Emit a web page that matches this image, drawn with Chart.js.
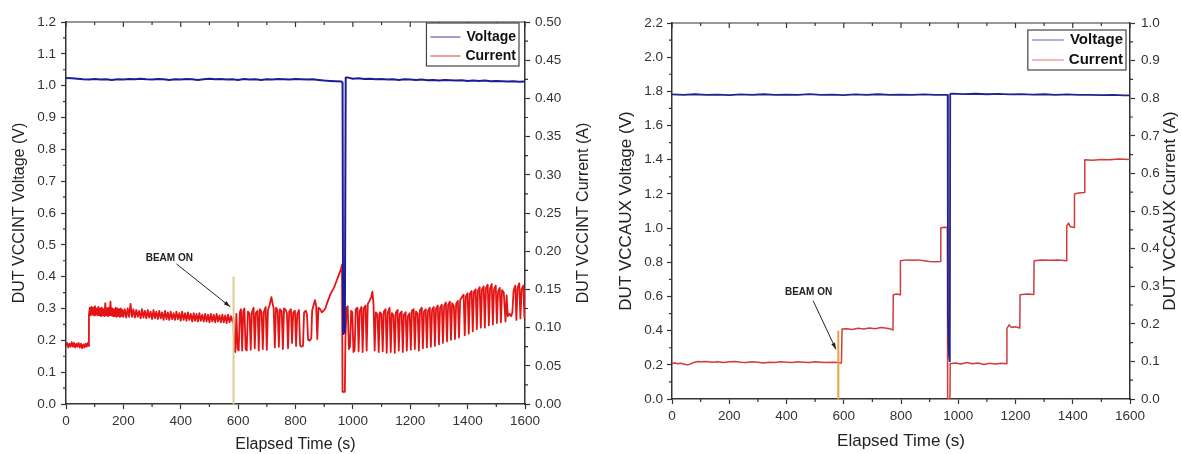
<!DOCTYPE html>
<html>
<head>
<meta charset="utf-8">
<script src="https://cdn.jsdelivr.net/npm/chart.js@4/dist/chart.umd.min.js"></script>
<style>
  body { margin: 0; background: #fff; }
  #wrap { position: relative; width: 1182px; height: 454px; background: #fff; }
  canvas { position: absolute; top: 0; }
  #vccint { left: 0; }
  #vccaux { left: 596px; }
</style>
</head>
<body>
<div id="wrap">
  <canvas id="vccint" width="596" height="454"></canvas>
  <canvas id="vccaux" width="586" height="454"></canvas>
</div>
<script>
// ---- data (time in s) ----
const timeTicks = [0, 200, 400, 600, 800, 1000, 1200, 1400, 1600];

// VCCINT voltage (V, left axis)
const vccintVoltage = [
  [0,1.024],[20,1.023],[40,1.022],[60,1.020],[80,1.019],[100,1.021],[120,1.019],[140,1.020],
  [160,1.018],[180,1.020],[200,1.019],[220,1.021],[240,1.020],[260,1.022],[280,1.020],[300,1.019],
  [320,1.021],[340,1.020],[360,1.018],[380,1.020],[400,1.019],[420,1.021],[440,1.020],[460,1.018],
  [480,1.020],[500,1.022],[520,1.020],[540,1.021],[560,1.019],[580,1.020],[600,1.018],[620,1.021],
  [640,1.019],[660,1.020],[680,1.018],[700,1.020],[720,1.019],[740,1.021],[760,1.020],[780,1.019],
  [800,1.021],[820,1.020],[840,1.019],[860,1.020],[880,1.018],[900,1.016],[920,1.015],[940,1.014],
  [960,1.013],[964,1.010],[966,0.220],[972,0.225],[975,1.025],[980,1.026],[1000,1.022],[1020,1.023],
  [1040,1.021],[1060,1.022],[1080,1.020],[1100,1.021],[1120,1.019],[1140,1.020],[1160,1.018],
  [1180,1.020],[1200,1.019],[1220,1.018],[1240,1.019],[1260,1.017],[1280,1.018],[1300,1.016],
  [1320,1.018],[1340,1.017],[1360,1.016],[1380,1.017],[1400,1.015],[1420,1.016],[1440,1.015],
  [1460,1.016],[1480,1.014],[1500,1.015],[1520,1.014],[1540,1.013],[1560,1.014],[1580,1.012],[1600,1.013]
];

// VCCINT current (A, right axis)
const vccintCurrent = [
  [0,0.076],[4,0.080],[8,0.074],[12,0.079],[16,0.075],[20,0.081],[24,0.075],[28,0.080],[32,0.074],
  [36,0.079],[40,0.075],[44,0.080],[48,0.074],[52,0.079],[56,0.073],[60,0.078],[64,0.074],[68,0.079],
  [72,0.075],[76,0.080],[79,0.076],
  [80,0.117],[83,0.126],[86,0.116],[89,0.127],[92,0.117],[95,0.126],[98,0.116],[101,0.128],[104,0.117],
  [107,0.125],[110,0.116],[113,0.127],[116,0.116],[119,0.125],[122,0.115],[125,0.126],[128,0.116],
  [131,0.124],[134,0.115],[137,0.132],[140,0.116],[143,0.125],[146,0.115],[149,0.126],[152,0.116],
  [155,0.134],[158,0.116],[161,0.125],[164,0.115],[167,0.124],[170,0.115],[173,0.126],[176,0.114],
  [179,0.125],[182,0.115],[185,0.124],[188,0.114],[191,0.125],[194,0.115],[197,0.123],[200,0.114],
  [205,0.124],[210,0.113],[215,0.125],[220,0.114],[225,0.131],[230,0.114],[235,0.124],[240,0.113],
  [245,0.123],[250,0.114],[255,0.122],[260,0.112],[265,0.124],[270,0.113],[275,0.122],[280,0.112],
  [285,0.123],[290,0.113],[295,0.121],[300,0.111],[305,0.123],[310,0.112],[315,0.121],[320,0.111],
  [325,0.122],[330,0.112],[335,0.120],[340,0.110],[345,0.122],[350,0.111],[355,0.120],[360,0.110],
  [365,0.121],[370,0.111],[375,0.119],[380,0.110],[385,0.121],[390,0.111],[395,0.119],[400,0.109],
  [405,0.121],[410,0.110],[415,0.119],[420,0.109],[425,0.120],[430,0.110],[435,0.118],[440,0.108],
  [445,0.119],[450,0.109],[455,0.118],[460,0.108],[465,0.119],[470,0.109],[475,0.117],[480,0.108],
  [485,0.118],[490,0.108],[495,0.117],[500,0.107],[505,0.118],[510,0.108],[515,0.117],[520,0.107],
  [525,0.118],[530,0.108],[535,0.116],[540,0.107],[545,0.117],[550,0.107],[555,0.116],[560,0.106],
  [565,0.117],[570,0.107],[575,0.115],[580,0.108],[584,0.113],
  [586,0.070],[590,0.068],[594,0.118],[598,0.072],[602,0.070],[606,0.120],[610,0.124],[614,0.070],
  [618,0.122],[622,0.125],[626,0.072],[630,0.070],[634,0.121],[640,0.118],[644,0.071],[648,0.120],
  [654,0.126],[658,0.073],[662,0.119],[668,0.122],[672,0.070],[676,0.124],[682,0.120],[686,0.072],
  [690,0.121],[696,0.127],[700,0.071],[704,0.123],[710,0.130],[716,0.140],[720,0.132],[724,0.125],
  [728,0.074],[732,0.126],[738,0.122],[742,0.075],[746,0.124],[752,0.121],[756,0.072],[760,0.125],
  [766,0.123],[770,0.119],[774,0.073],[778,0.121],[784,0.124],[788,0.080],[792,0.120],[798,0.122],
  [802,0.076],[806,0.118],[812,0.123],[816,0.077],[820,0.075],[826,0.076],[830,0.120],[836,0.122],
  [840,0.117],[844,0.084],[850,0.083],[855,0.086],[858,0.122],[864,0.131],[868,0.136],[872,0.128],
  [876,0.085],[880,0.126],[886,0.124],[892,0.120],[898,0.122],[904,0.125],[910,0.132],[916,0.138],
  [922,0.144],[928,0.148],[934,0.152],[940,0.158],[946,0.164],[952,0.170],[958,0.176],[962,0.182],
  [964,0.016],[972,0.016],[974,0.085],
  [978,0.126],[982,0.128],[986,0.072],[990,0.075],[994,0.122],[998,0.120],[1002,0.068],[1006,0.070],
  [1010,0.124],[1016,0.126],[1020,0.069],[1024,0.122],[1030,0.127],[1034,0.068],[1038,0.125],
  [1044,0.129],[1048,0.070],[1052,0.131],[1058,0.135],[1064,0.140],[1068,0.147],[1072,0.130],
  [1076,0.070],[1080,0.120],[1086,0.117],[1090,0.068],[1094,0.120],[1100,0.118],[1104,0.069],
  [1108,0.121],[1114,0.124],[1118,0.067],[1122,0.120],[1128,0.126],[1132,0.068],[1136,0.119],
  [1142,0.116],[1146,0.067],[1150,0.120],[1156,0.123],[1160,0.070],[1164,0.118],[1170,0.121],
  [1174,0.068],[1178,0.117],[1184,0.120],[1188,0.070],[1192,0.115],[1198,0.119],[1202,0.071],
  [1206,0.122],[1212,0.124],[1216,0.072],[1220,0.121],[1226,0.118],[1230,0.070],[1234,0.123],
  [1240,0.126],[1244,0.073],[1248,0.121],[1254,0.124],[1258,0.074],[1262,0.122],[1268,0.126],
  [1272,0.075],[1276,0.123],[1282,0.127],[1286,0.076],[1290,0.125],[1296,0.129],[1300,0.078],
  [1304,0.126],[1310,0.130],[1314,0.080],[1318,0.128],[1324,0.133],[1328,0.082],[1332,0.130],
  [1338,0.134],[1342,0.084],[1346,0.132],[1352,0.128],[1356,0.085],[1360,0.131],[1366,0.135],
  [1370,0.087],[1374,0.136],[1380,0.140],[1386,0.143],[1390,0.090],[1394,0.141],[1400,0.145],
  [1404,0.092],[1408,0.144],[1414,0.148],[1418,0.095],[1422,0.147],[1428,0.150],[1432,0.098],
  [1436,0.148],[1442,0.153],[1446,0.100],[1450,0.150],[1456,0.154],[1460,0.100],[1464,0.152],
  [1470,0.156],[1474,0.103],[1478,0.151],[1484,0.157],[1488,0.104],[1492,0.150],[1498,0.155],
  [1502,0.106],[1506,0.147],[1512,0.152],[1516,0.107],[1520,0.149],[1526,0.146],[1532,0.108],
  [1536,0.142],[1540,0.115],[1546,0.118],[1552,0.115],[1556,0.120],[1560,0.148],[1566,0.155],
  [1570,0.110],[1574,0.152],[1580,0.158],[1584,0.112],[1588,0.150],[1594,0.155],[1598,0.113],[1600,0.150]
];

// VCCAUX voltage (V, left axis)
const vccauxVoltage = [
  [0,1.782],[40,1.780],[80,1.783],[120,1.779],[160,1.781],[200,1.778],[240,1.782],[280,1.780],
  [320,1.783],[360,1.779],[400,1.781],[440,1.780],[480,1.784],[520,1.779],[560,1.781],[600,1.778],
  [640,1.782],[680,1.780],[720,1.783],[760,1.779],[800,1.781],[840,1.780],[880,1.782],[920,1.779],
  [960,1.780],[963,1.779],[964,0.500],[966,0.330],[968,0.250],[970,0.220],[971,0.220],[972,1.785],
  [980,1.787],[1020,1.784],[1060,1.786],[1100,1.783],[1140,1.785],[1180,1.782],[1220,1.784],
  [1260,1.781],[1300,1.783],[1340,1.780],[1380,1.782],[1420,1.779],[1460,1.780],[1500,1.778],
  [1540,1.779],[1580,1.776],[1600,1.777]
];

// VCCAUX current (A, right axis)
const vccauxCurrent = [
  [0,0.095],[10,0.096],[20,0.094],[30,0.095],[40,0.093],[50,0.091],[60,0.092],[70,0.095],[80,0.098],
  [90,0.100],[100,0.099],[120,0.100],[140,0.098],[160,0.099],[180,0.097],[200,0.099],[220,0.100],
  [240,0.098],[260,0.097],[280,0.099],[300,0.098],[320,0.096],[340,0.098],[360,0.097],[380,0.099],
  [400,0.098],[420,0.097],[440,0.099],[460,0.098],[480,0.097],[500,0.099],[520,0.098],[540,0.097],
  [560,0.098],[580,0.097],[592,0.096],[594,0.186],[610,0.187],[630,0.185],[650,0.188],[670,0.186],
  [690,0.189],[710,0.187],[730,0.190],[750,0.188],[765,0.186],[772,0.183],[773,0.277],[785,0.279],
  [797,0.277],[798,0.368],[820,0.370],[840,0.369],[860,0.370],[880,0.368],[900,0.366],[920,0.365],
  [938,0.366],[939,0.455],[950,0.457],[962,0.456],[963,0.000],[971,0.000],[972,0.094],[990,0.096],
  [1010,0.093],[1030,0.097],[1050,0.094],[1070,0.096],[1090,0.092],[1110,0.095],[1130,0.093],
  [1150,0.095],[1169,0.094],[1170,0.188],[1178,0.197],[1186,0.190],[1200,0.192],[1215,0.189],
  [1216,0.277],[1240,0.279],[1264,0.278],[1265,0.368],[1290,0.370],[1320,0.369],[1350,0.370],
  [1378,0.368],[1379,0.460],[1385,0.468],[1392,0.458],[1405,0.456],[1406,0.545],[1420,0.548],
  [1440,0.549],[1442,0.636],[1470,0.635],[1500,0.637],[1530,0.636],[1560,0.638],[1600,0.637]
];

// beam-on markers: [time, bottom V, top V]
const vccintBeam = [584, 0, 0.4];
const vccauxBeam = [581, 0, 0.4];

// "BEAM ON" note: label position, arrow start, arrow tip (time, V)
const vccintNote = { at: [360, 0.457], from: [385, 0.44], to: [573, 0.305] };
const vccauxNote = { at: [477, 0.626], from: [493, 0.575], to: [573, 0.29] };

const FONT = "'Liberation Sans', Arial, sans-serif";
Chart.defaults.font.family = FONT;
Chart.defaults.color = '#333';

const toXY = arr => arr.map(p => ({ x: p[0], y: p[1] }));

// plot frame: top border, top ticks (inward), minor ticks, right-axis title
const frame = {
  id: 'frame',
  afterDraw(chart, args, o) {
    const { ctx, chartArea: a, scales } = chart;
    ctx.save();
    ctx.strokeStyle = '#333';
    ctx.lineWidth = 1.2;
    ctx.beginPath();
    ctx.moveTo(a.left, a.top);
    ctx.lineTo(a.right, a.top);
    const half = o.xStep / 2;
    for (let k = 0; k * half <= scales.x.max; k++) {
      const px = scales.x.getPixelForValue(k * half);
      const major = k % 2 === 0;
      ctx.moveTo(px, a.top);
      ctx.lineTo(px, a.top + (major ? 5 : 3));
      if (!major) {
        ctx.moveTo(px, a.bottom);
        ctx.lineTo(px, a.bottom + 3);
      }
    }
    [['y', o.yStep / 2, a.left, -3], ['y1', o.y1Step / 2, a.right, 3]].forEach(([id, h, edge, dir]) => {
      const s = scales[id];
      for (let k = 1; k * h < s.max; k += 2) {
        const py = s.getPixelForValue(k * h);
        ctx.moveTo(edge, py);
        ctx.lineTo(edge + dir, py);
      }
    });
    ctx.stroke();

    // right axis title reads bottom-to-top like the left one
    ctx.translate(chart.width - o.rightTitleOffset, (a.top + a.bottom) / 2);
    ctx.rotate(-Math.PI / 2);
    ctx.font = o.titleSize + 'px ' + FONT;
    ctx.fillStyle = '#222';
    ctx.textAlign = 'center';
    ctx.textBaseline = 'middle';
    ctx.fillText(o.rightTitle, 0, 0);
    ctx.restore();
  }
};

// boxed legend inside the top right corner
const boxLegend = {
  id: 'boxLegend',
  afterDraw(chart, args, o) {
    const { ctx, chartArea: a } = chart;
    const items = chart.data.datasets.filter(d => d.label);
    ctx.save();
    ctx.font = 'bold ' + o.size + 'px ' + FONT;
    const textW = Math.max(...items.map(d => ctx.measureText(d.label).width));
    const w = o.sample + 8 + textW + 4;
    const h = o.first + o.row * (items.length - 1) + o.last;
    const x = a.right - o.dx - w, y = a.top + o.dy;
    ctx.fillStyle = '#fff';
    ctx.fillRect(x, y, w, h);
    ctx.strokeStyle = '#444';
    ctx.lineWidth = 1.2;
    ctx.strokeRect(x, y, w, h);
    items.forEach((d, i) => {
      const cy = y + o.first + i * o.row;
      ctx.globalAlpha = 0.7;
      ctx.strokeStyle = d.borderColor;
      ctx.lineWidth = 1.2;
      ctx.beginPath();
      ctx.moveTo(x + 4, cy);
      ctx.lineTo(x + 4 + o.sample, cy);
      ctx.stroke();
      ctx.globalAlpha = 1;
      ctx.fillStyle = '#111';
      ctx.textAlign = 'right';
      ctx.textBaseline = 'middle';
      ctx.fillText(d.label, x + w - 3, cy);
    });
    ctx.restore();
  }
};

// "BEAM ON" text with arrow
const beamNote = {
  id: 'beamNote',
  afterDatasetsDraw(chart, args, o) {
    const { ctx, scales: { x, y } } = chart;
    const px = p => [x.getPixelForValue(p[0]), y.getPixelForValue(p[1])];
    const [tx, ty] = px(o.at);
    const [x1, y1] = px(o.from);
    const [x2, y2] = px(o.to);
    ctx.save();
    ctx.font = 'bold 10px ' + FONT;
    ctx.fillStyle = '#222';
    ctx.textAlign = 'center';
    ctx.textBaseline = 'middle';
    ctx.fillText('BEAM ON', tx, ty);
    ctx.strokeStyle = '#222';
    ctx.lineWidth = 1;
    ctx.beginPath();
    ctx.moveTo(x1, y1);
    ctx.lineTo(x2, y2);
    ctx.stroke();
    const ang = Math.atan2(y2 - y1, x2 - x1);
    ctx.fillStyle = '#222';
    ctx.beginPath();
    ctx.moveTo(x2, y2);
    ctx.lineTo(x2 - 7 * Math.cos(ang - 0.3), y2 - 7 * Math.sin(ang - 0.3));
    ctx.lineTo(x2 - 7 * Math.cos(ang + 0.3), y2 - 7 * Math.sin(ang + 0.3));
    ctx.closePath();
    ctx.fill();
    ctx.restore();
  }
};

function yAxis(pos, max, step, digits, title, s) {
  return {
    type: 'linear',
    position: pos,
    min: 0,
    max: max,
    afterFit: sc => { sc.width = s.width; },
    ticks: {
      stepSize: step, autoSkip: false, padding: s.pad, color: '#333',
      font: { size: 13.5 }, callback: v => v.toFixed(digits)
    },
    grid: { drawOnChartArea: false, color: '#333', tickLength: 5, tickWidth: 1.2 },
    border: { color: '#333', width: 1.5 },
    title: { display: !!title, text: title, color: '#222', font: { size: s.title }, padding: { top: s.tpad, bottom: 0 } }
  };
}

function makeChart(id, p) {
  return new Chart(document.getElementById(id), {
    type: 'line',
    data: {
      datasets: [
        { data: toXY([[p.beam[0], p.beam[1]], [p.beam[0], p.beam[2]]]), borderColor: p.beamColor, borderWidth: 2, yAxisID: 'y' },
        { label: 'Voltage', data: toXY(p.voltage), borderColor: p.blue, borderWidth: p.vWidth, yAxisID: 'y' },
        { label: 'Current', data: toXY(p.current), borderColor: p.red, borderWidth: p.cWidth, yAxisID: 'y1' }
      ]
    },
    options: {
      responsive: false,
      animation: false,
      events: [],
      layout: { padding: { top: p.top, left: 0, right: 0, bottom: 0 } },
      elements: { point: { radius: 0 }, line: { tension: 0, borderJoinStyle: 'round' } },
      scales: {
        x: {
          type: 'linear', min: 0, max: 1600,
          afterFit: sc => { sc.height = p.xHeight; },
          afterBuildTicks: sc => { sc.ticks = timeTicks.map(v => ({ value: v })); },
          ticks: { autoSkip: false, padding: 4, color: '#333', font: { size: 13.5 }, maxRotation: 0, callback: v => String(v) },
          grid: { drawOnChartArea: false, color: '#333', tickLength: 5, tickWidth: 1.2 },
          border: { color: '#333', width: 1.5 },
          title: { display: true, text: 'Elapsed Time (s)', color: '#222', font: { size: p.titleSize }, padding: { top: 0, bottom: p.xtpad } }
        },
        y: yAxis('left', p.vMax, p.vStep, 1, p.vTitle, p.left),
        y1: yAxis('right', p.cMax, p.cStep, p.cDigits, '', p.right)
      },
      plugins: {
        legend: { display: false },
        tooltip: { enabled: false },
        frame: { xStep: 200, yStep: p.vStep, y1Step: p.cStep, rightTitle: p.cTitle, rightTitleOffset: p.right.tcenter, titleSize: p.titleSize },
        boxLegend: p.legend,
        beamNote: p.note
      }
    },
    plugins: [frame, boxLegend, beamNote]
  });
}

makeChart('vccint', {
  voltage: vccintVoltage, current: vccintCurrent, beam: vccintBeam, note: vccintNote,
  blue: '#1c1c96', red: '#e41414', beamColor: '#d9cb94', vWidth: 2, cWidth: 1.8,
  top: 22, xHeight: 50, titleSize: 16, xtpad: 0,
  vMax: 1.2, vStep: 0.1, cMax: 0.5, cStep: 0.05, cDigits: 2,
  vTitle: 'DUT VCCINT Voltage (V)', cTitle: 'DUT VCCINT Current (A)',
  left: { width: 66, pad: 5, title: 16, tpad: 10 },
  right: { width: 71, pad: 5, tcenter: 12 },
  legend: { size: 14, sample: 30, first: 14, row: 19, last: 10, dx: 6, dy: 1 }
});

makeChart('vccaux', {
  voltage: vccauxVoltage, current: vccauxCurrent, beam: vccauxBeam, note: vccauxNote,
  blue: '#23238c', red: '#d03c3c', beamColor: '#eaa23c', vWidth: 1.8, cWidth: 1.5,
  top: 23, xHeight: 55, titleSize: 17, xtpad: 2,
  vMax: 2.2, vStep: 0.2, cMax: 1.0, cStep: 0.1, cDigits: 1,
  vTitle: 'DUT VCCAUX Voltage (V)', cTitle: 'DUT VCCAUX Current (A)',
  left: { width: 76, pad: 4, title: 17, tpad: 20 },
  right: { width: 52, pad: 6, tcenter: 12 },
  legend: { size: 15, sample: 32, first: 10, row: 20, last: 10, dx: 4, dy: 7 }
});
</script>
</body>
</html>
